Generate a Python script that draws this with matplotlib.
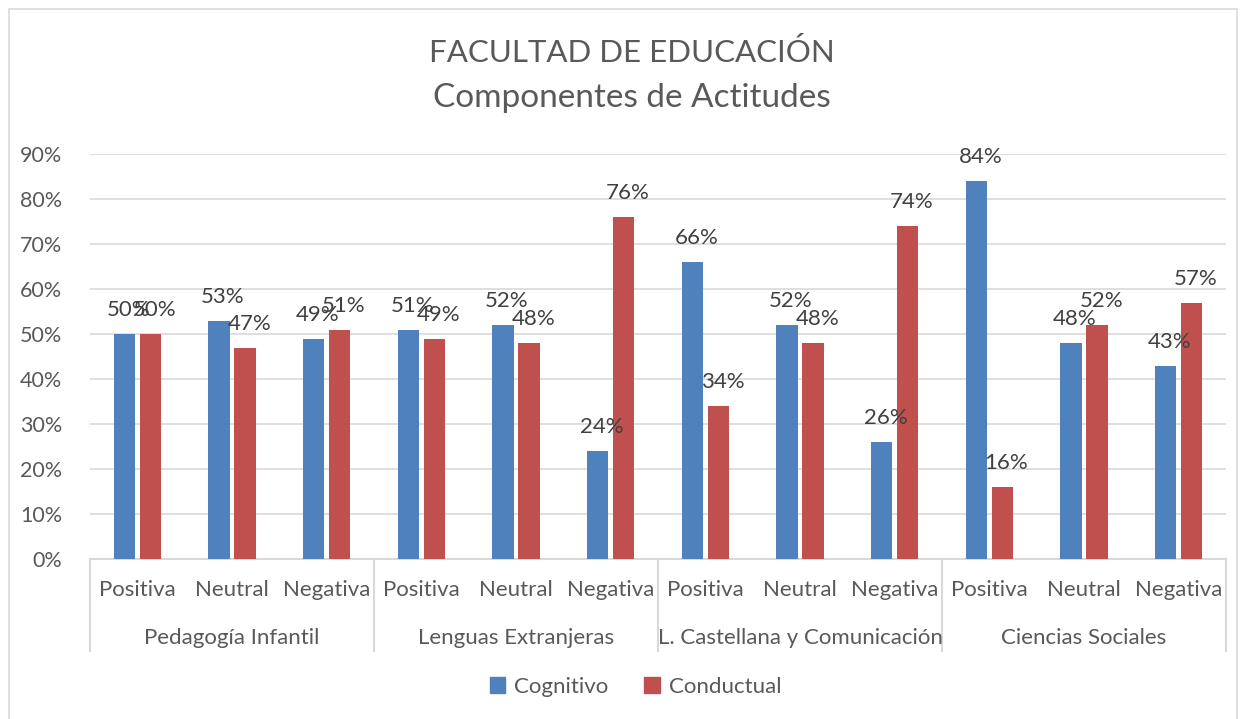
import numpy as np
import matplotlib.pyplot as plt
from matplotlib.patches import Rectangle, Patch
import matplotlib.transforms as mtransforms

plt.rcParams["font.family"] = ["Lato", "DejaVu Sans"]

groups = ["Pedagogía Infantil", "Lenguas Extranjeras",
          "L. Castellana y Comunicación", "Ciencias Sociales"]
components = ["Positiva", "Neutral", "Negativa"]
cognitivo = [50, 53, 49, 51, 52, 24, 66, 52, 26, 84, 48, 43]
conductual = [50, 47, 51, 49, 48, 76, 34, 48, 74, 16, 52, 57]

BLUE = "#4F81BD"
RED = "#C0504D"
TXT = "#595959"
GRID = "#D9D9D9"

fig = plt.figure(figsize=(12.46, 7.19), dpi=100)
ax = fig.add_axes([90 / 1246, 1 - 559 / 719, (1226 - 90) / 1246, 405 / 719])

n = len(cognitivo)
x = np.arange(n)
w = 0.225
off = 0.138
b1 = ax.bar(x - off, cognitivo, w, color=BLUE, label="Cognitivo", zorder=3)
b2 = ax.bar(x + off, conductual, w, color=RED, label="Conductual", zorder=3)

for bars in (b1, b2):
    for r in bars:
        ax.annotate(f"{int(r.get_height())}%",
                    (r.get_x() + r.get_width() / 2, r.get_height()),
                    xytext=(3, 10), textcoords="offset points",
                    ha="center", va="bottom", fontsize=16, color="#404040", zorder=4)

ax.set_xlim(-0.5, n - 0.5)
ax.set_ylim(0, 90)
ax.set_yticks(np.arange(0, 91, 10))
ax.set_yticklabels([f"{v}%" for v in range(0, 91, 10)])
ax.tick_params(axis="y", length=0, pad=20, labelsize=15.5, labelcolor=TXT)
ax.yaxis.grid(True, color=GRID, linewidth=1.2, zorder=0)
ax.set_axisbelow(True)
for s in ["top", "right", "left"]:
    ax.spines[s].set_visible(False)
ax.spines["bottom"].set_color(GRID)
ax.spines["bottom"].set_linewidth(1.5)

ax.set_xticks(x)
ax.set_xticklabels(components * len(groups))
ax.tick_params(axis="x", length=0, pad=15, labelsize=16, labelcolor=TXT)

trans = mtransforms.blended_transform_factory(ax.transData, ax.transAxes)
for i, g in enumerate(groups):
    ax.text(3 * i + 1, -0.195, g, transform=trans, ha="center", va="center",
            fontsize=16, color=TXT)
for k in range(len(groups) + 1):
    ax.plot([3 * k - 0.5, 3 * k - 0.5], [0, -0.227], transform=trans,
            color=GRID, linewidth=1.5, clip_on=False)

fig.text(0.507, 1 - 52 / 719, "FACULTAD DE EDUCACIÓN", ha="center", va="center",
         fontsize=22.5, color=TXT)
fig.text(0.507, 1 - 98 / 719, "Componentes de Actitudes", ha="center", va="center",
         fontsize=24, color=TXT)

fig.legend(handles=[Patch(color=BLUE, label="Cognitivo"), Patch(color=RED, label="Conductual")],
           loc="center", bbox_to_anchor=(0.51, 1 - 687 / 719), ncol=2, frameon=False,
           fontsize=16, labelcolor=TXT, handlelength=0.7, handleheight=0.7,
           handletextpad=0.4, columnspacing=1.6)

fig.patches.append(Rectangle((9 / 1246, -0.01), 1228 / 1246, 1 - 9 / 719 + 0.01,
                             transform=fig.transFigure, fill=False,
                             edgecolor=GRID, linewidth=1.2))

fig.savefig("out.png", dpi=100)
